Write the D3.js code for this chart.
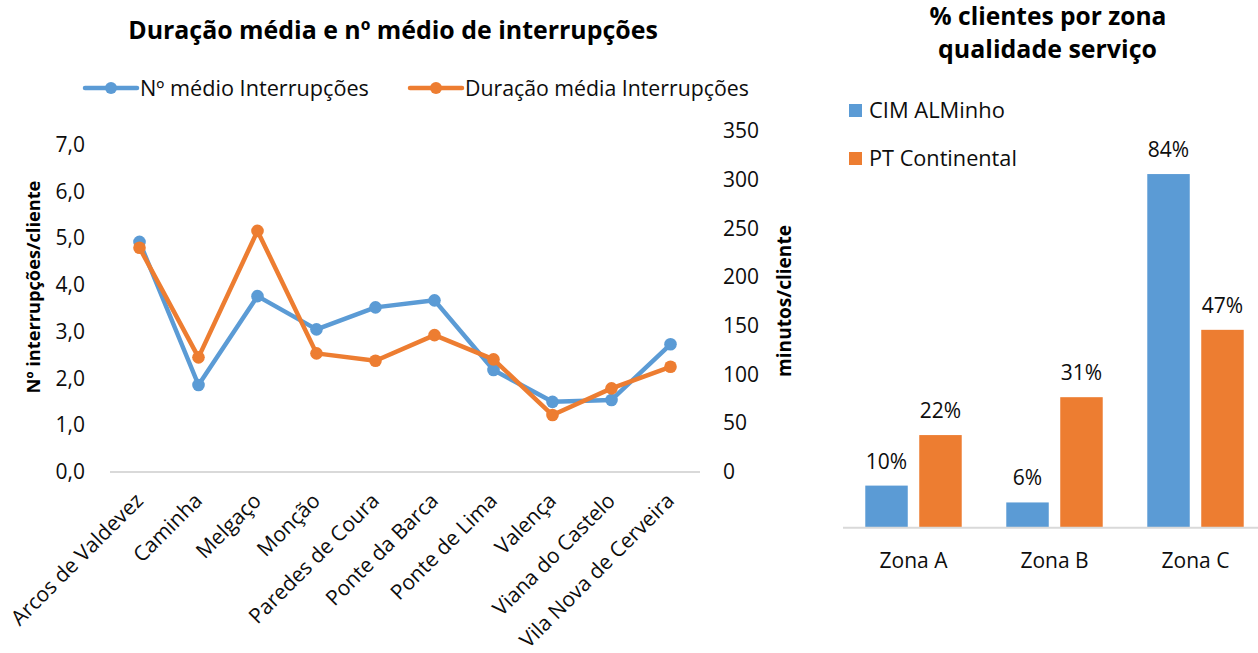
<!DOCTYPE html>
<html><head><meta charset="utf-8">
<script src="https://cdn.jsdelivr.net/npm/d3@7"></script>
<style>html,body{margin:0;padding:0;background:#fff;overflow:hidden}svg{display:block}text{font-family:"Open Sans",sans-serif;fill:#0d0d0d}</style>
</head><body>
<svg id="c" width="1258" height="653"></svg>
<script>
// ---- data ----
const categories = ["Arcos de Valdevez","Caminha","Melgaço","Monção","Paredes de Coura","Ponte da Barca","Ponte de Lima","Valença","Viana do Castelo","Vila Nova de Cerveira"];
const interrupcoes = [4.92, 1.86, 3.76, 3.05, 3.52, 3.67, 2.18, 1.50, 1.54, 2.73];
const duracao = [230, 117.6, 247.3, 121.7, 114.1, 140.4, 115.5, 58.4, 85.8, 107.9];
const leftTicks = [0,1,2,3,4,5,6,7];
const rightTicks = [0,50,100,150,200,250,300,350];
const lineSeries = ["Nº médio Interrupções","Duração média Interrupções"];
const zonas = ["Zona A","Zona B","Zona C"];
const barSeries = ["CIM ALMinho","PT Continental"];
const cimValues = [10, 6, 84];
const ptValues = [22, 31, 47];

const BLUE = "#5B9BD5", ORANGE = "#ED7D31", GRID = "#d9d9d9";
const svg = d3.select("#c");
function fit(sel, w){ const l = sel.node().getComputedTextLength(); const fs = parseFloat(sel.attr("font-size")); sel.attr("font-size", fs*w/l); return sel; }

// ---- left chart ----
const L = {x0:110, x1:700, y0:472};
const x = d3.scaleBand().domain(categories).range([L.x0, L.x1]);
const yL = d3.scaleLinear().domain([0,7]).range([L.y0, 144.6]);
const yR = d3.scaleLinear().domain([0,350]).range([L.y0, 130.8]);

fit(svg.append("text").attr("x",393).attr("y",39).attr("text-anchor","middle").attr("font-weight","bold").attr("font-size",24).style("fill","#000")
  .text("Duração média e nº médio de interrupções"), 530);

// legend
const lg = [{x:85, c:BLUE, t:lineSeries[0], tw:229},{x:410, c:ORANGE, t:lineSeries[1], tw:284}];
lg.forEach(d=>{
  svg.append("line").attr("x1",d.x).attr("x2",d.x+52).attr("y1",88).attr("y2",88).attr("stroke",d.c).attr("stroke-width",4.5).attr("stroke-linecap","round");
  svg.append("circle").attr("cx",d.x+26).attr("cy",88).attr("r",6).attr("fill",d.c);
  fit(svg.append("text").attr("x",d.x+55).attr("y",96).attr("font-size",21).text(d.t), d.tw);
});

// axes
svg.append("line").attr("x1",L.x0).attr("x2",L.x1).attr("y1",L.y0).attr("y2",L.y0).attr("stroke",GRID).attr("stroke-width",2);
const gl = svg.append("g").attr("transform",`translate(${L.x0},0)`)
  .call(d3.axisLeft(yL).tickValues(leftTicks).tickSize(0).tickPadding(25).tickFormat(d=>d3.format(".1f")(d).replace(".",",")));
gl.select(".domain").remove();
gl.selectAll("text").attr("font-size",21).attr("font-family","Open Sans").style("fill","#0d0d0d");
const gr = svg.append("g").attr("transform",`translate(${L.x1},0)`)
  .call(d3.axisRight(yR).tickValues(rightTicks).tickSize(0).tickPadding(23));
gr.select(".domain").remove();
gr.selectAll("text").attr("font-size",21).attr("font-family","Open Sans").style("fill","#0d0d0d");

const gx = svg.append("g").attr("transform",`translate(0,${L.y0})`).call(d3.axisBottom(x).tickSize(0));
gx.select(".domain").remove();
gx.selectAll(".tick").attr("transform",d=>`translate(${x(d)+x.bandwidth()/2+5},30) rotate(-45)`);
gx.selectAll("text").attr("x",0).attr("y",0).attr("dy",0).attr("text-anchor","end").attr("font-size",21).attr("font-family","Open Sans").style("fill","#0d0d0d");

// axis titles
fit(svg.append("text").attr("transform","translate(40,287) rotate(-90)").attr("text-anchor","middle").attr("font-weight","bold").attr("font-size",18).style("fill","#000").text("Nº interrupções/cliente"),213);
fit(svg.append("text").attr("transform","translate(791,301) rotate(-90)").attr("text-anchor","middle").attr("font-weight","bold").attr("font-size",18).style("fill","#000").text("minutos/cliente"),152);

// lines
const cx = d=>x(d)+x.bandwidth()/2;
const blueData = categories.map((c,i)=>({c, v:interrupcoes[i]}));
const orangeData = categories.map((c,i)=>({c, v:duracao[i]}));
[[blueData,yL,BLUE],[orangeData,yR,ORANGE]].forEach(([data,ys,col])=>{
  svg.append("path").datum(data).attr("fill","none").attr("stroke",col).attr("stroke-width",4.5).attr("stroke-linejoin","round").attr("stroke-linecap","round")
    .attr("d", d3.line().x(d=>cx(d.c)).y(d=>ys(d.v)));
  svg.append("g").selectAll("circle").data(data).join("circle").attr("cx",d=>cx(d.c)).attr("cy",d=>ys(d.v)).attr("r",6.3).attr("fill",col);
});

// ---- right chart ----
const B = {x0:843, x1:1266, y0:527.7};
const x0 = d3.scaleBand().domain(zonas).range([B.x0,B.x1]).paddingInner(0.316).paddingOuter(0.158);
const x1 = d3.scaleBand().domain(barSeries).range([0,x0.bandwidth()]).paddingInner(0.213);
const yB = d3.scaleLinear().domain([0,100]).range([B.y0, B.y0-421]);

fit(svg.append("text").attr("x",1048).attr("y",25).attr("text-anchor","middle").attr("font-weight","bold").attr("font-size",24).style("fill","#000").text("% clientes por zona"),237);
fit(svg.append("text").attr("x",1047.5).attr("y",58).attr("text-anchor","middle").attr("font-weight","bold").attr("font-size",24).style("fill","#000").text("qualidade serviço"),219);

const legB = [{c:BLUE,t:barSeries[0],y:104,tw:136},{c:ORANGE,t:barSeries[1],y:152,tw:148}];
legB.forEach(d=>{
  svg.append("rect").attr("x",849).attr("y",d.y).attr("width",13).attr("height",13).attr("fill",d.c);
  fit(svg.append("text").attr("x",869).attr("y",d.y+13.5).attr("font-size",21).text(d.t), d.tw);
});

const barData = [];
zonas.forEach((z,i)=>{ barData.push({z,s:barSeries[0],v:cimValues[i],c:BLUE}); barData.push({z,s:barSeries[1],v:ptValues[i],c:ORANGE}); });
svg.append("g").selectAll("rect").data(barData).join("rect")
  .attr("x",d=>x0(d.z)+x1(d.s)).attr("width",x1.bandwidth())
  .attr("y",d=>yB(d.v)).attr("height",d=>B.y0-yB(d.v)).attr("fill",d=>d.c);
svg.append("g").selectAll("text").data(barData).join("text")
  .attr("x",d=>x0(d.z)+x1(d.s)+x1.bandwidth()/2).attr("y",d=>yB(d.v)-17)
  .attr("text-anchor","middle").attr("font-size",21).text(d=>d.v+"%");

svg.append("line").attr("x1",B.x0).attr("x2",1258).attr("y1",B.y0).attr("y2",B.y0).attr("stroke",GRID).attr("stroke-width",2);
const gb = svg.append("g").attr("transform",`translate(0,${B.y0})`).call(d3.axisBottom(x0).tickSize(0).tickPadding(25));
gb.select(".domain").remove();
gb.selectAll("text").attr("font-size",21).attr("font-family","Open Sans").style("fill","#0d0d0d");
</script>
</body></html>
